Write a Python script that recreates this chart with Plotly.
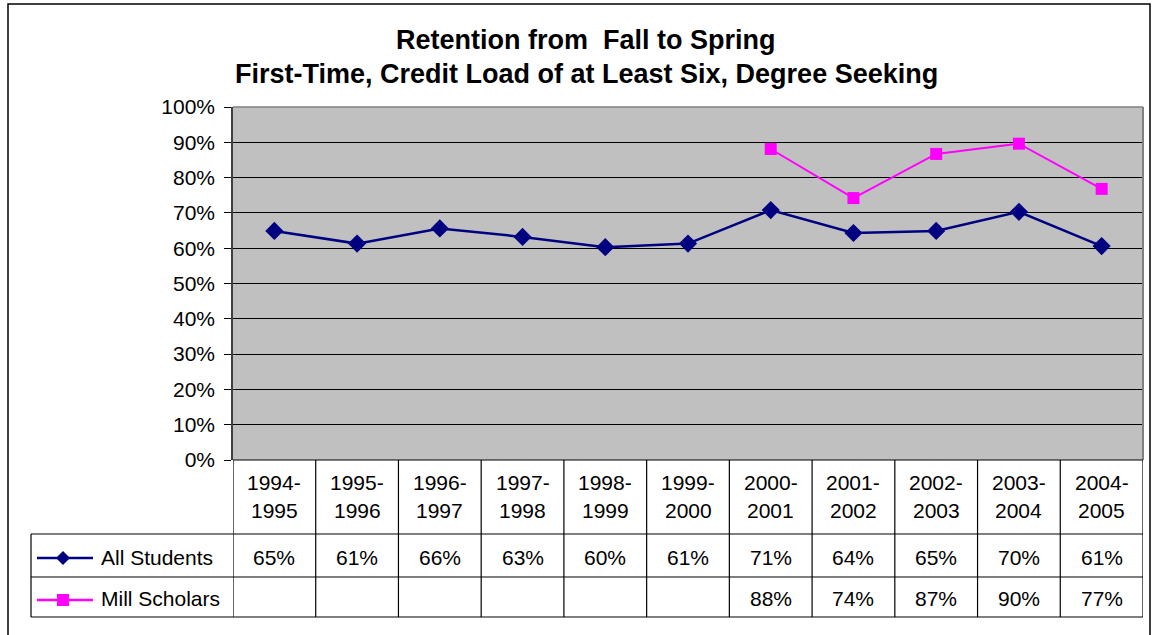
import plotly.graph_objects as go

W, H = 1152, 635

categories = ["1994-1995", "1995-1996", "1996-1997", "1997-1998", "1998-1999", "1999-2000",
              "2000-2001", "2001-2002", "2002-2003", "2003-2004", "2004-2005"]
all_students = [64.9, 61.3, 65.6, 63.2, 60.3, 61.3, 70.8, 64.3, 64.9, 70.3, 60.6]
mill_scholars = [None, None, None, None, None, None, 88.1, 74.2, 86.7, 89.6, 76.8]
series_names = ["All Students", "Mill Scholars"]
series_colors = ["#000080", "#FF00FF"]
title_lines = ["Retention from  Fall to Spring",
               "First-Time, Credit Load of at Least Six, Degree Seeking"]

FONT = "Arial, 'Liberation Sans', sans-serif"


def px(x):
    return x / W


def py(y):
    return 1 - y / H


PL, PR, PT, PB = 233, 1143, 107, 460
ROW1, ROW2, ROW3 = 534, 577, 617

fig = go.Figure()
fig.add_trace(go.Scatter(
    x=categories, y=all_students, mode="lines+markers", name=series_names[0],
    line=dict(color=series_colors[0], width=2.5),
    marker=dict(symbol="diamond", size=14, color=series_colors[0]),
    showlegend=False))
fig.add_trace(go.Scatter(
    x=categories, y=mill_scholars, mode="lines+markers", name=series_names[1],
    line=dict(color=series_colors[1], width=2),
    marker=dict(symbol="square", size=12, color=series_colors[1]),
    showlegend=False, connectgaps=False))

shapes = []
# plot border pieces
shapes.append(dict(type="line", xref="paper", yref="paper", x0=px(PL), x1=px(PR), y0=py(PT), y1=py(PT),
                   line=dict(color="#808080", width=1.5), layer="above"))
shapes.append(dict(type="line", xref="paper", yref="paper", x0=px(PR), x1=px(PR), y0=py(PT), y1=py(PB),
                   line=dict(color="#808080", width=2), layer="above"))
# table horizontal lines
shapes.append(dict(type="line", xref="paper", yref="paper", x0=px(PL), x1=px(PR), y0=py(PB), y1=py(PB),
                   line=dict(color="black", width=1.2)))
for yy in (ROW1, ROW2, ROW3):
    shapes.append(dict(type="line", xref="paper", yref="paper", x0=px(31), x1=px(PR), y0=py(yy), y1=py(yy),
                       line=dict(color="black", width=1.2)))
# table vertical lines
shapes.append(dict(type="line", xref="paper", yref="paper", x0=px(31), x1=px(31), y0=py(ROW1), y1=py(ROW3),
                   line=dict(color="black", width=1.2)))
for k in range(len(categories) + 1):
    shapes.append(dict(type="line", xref="x", yref="paper", x0=k - 0.5, x1=k - 0.5, y0=py(PB), y1=py(ROW3),
                       line=dict(color="black", width=1.2)))
# outer border
shapes.append(dict(type="rect", xref="paper", yref="paper", x0=px(8), x1=px(1150), y0=py(4), y1=py(645),
                   line=dict(color="black", width=1.5)))

# legend keys in table
key_rows = [(558, series_colors[0], "diamond"), (600, series_colors[1], "square")]
for yc, col, sym in key_rows:
    shapes.append(dict(type="line", xref="paper", yref="paper", x0=px(37), x1=px(93), y0=py(yc), y1=py(yc),
                       line=dict(color=col, width=2.5)))
    cx = 63
    if sym == "diamond":
        d = 7
        path = (f"M {px(cx - d)} {py(yc)} L {px(cx)} {py(yc - d)} L {px(cx + d)} {py(yc)} "
                f"L {px(cx)} {py(yc + d)} Z")
    else:
        d = 6
        path = (f"M {px(cx - d)} {py(yc - d)} L {px(cx + d)} {py(yc - d)} L {px(cx + d)} {py(yc + d)} "
                f"L {px(cx - d)} {py(yc + d)} Z")
    shapes.append(dict(type="path", xref="paper", yref="paper", path=path,
                       fillcolor=col, line=dict(color=col, width=0)))

annotations = []
# title
for i, (t, yc) in enumerate(zip(title_lines, (40, 74))):
    annotations.append(dict(text=f"<b>{t}</b>", xref="paper", yref="paper", x=px(586), y=py(yc),
                            xanchor="center", yanchor="middle", showarrow=False,
                            font=dict(family=FONT, size=27, color="black")))
# table header
for i, c in enumerate(categories):
    a, b = c.split("-")
    annotations.append(dict(text=a + "-", xref="x", yref="paper", x=i, y=py(482), xanchor="center",
                            yanchor="middle", showarrow=False, font=dict(family=FONT, size=21, color="black")))
    annotations.append(dict(text=b, xref="x", yref="paper", x=i, y=py(511), xanchor="center",
                            yanchor="middle", showarrow=False, font=dict(family=FONT, size=21, color="black")))
# table values
for series, yc in ((all_students, 557), (mill_scholars, 598)):
    for i, v in enumerate(series):
        if v is None:
            continue
        annotations.append(dict(text=f"{round(v)}%", xref="x", yref="paper", x=i, y=py(yc), xanchor="center",
                                yanchor="middle", showarrow=False, font=dict(family=FONT, size=21, color="black")))
# row labels
for name, yc in zip(series_names, (557, 598)):
    annotations.append(dict(text=name, xref="paper", yref="paper", x=px(99), y=py(yc), xanchor="left",
                            yanchor="middle", showarrow=False, font=dict(family=FONT, size=21, color="black")))

fig.update_layout(
    width=W, height=H,
    margin=dict(l=0, r=0, t=0, b=0, pad=0, autoexpand=False),
    paper_bgcolor="white", plot_bgcolor="#C0C0C0",
    shapes=shapes, annotations=annotations,
    showlegend=False,
    xaxis=dict(domain=[px(PL), px(PR)], type="category", range=[-0.5, len(categories) - 0.5],
               automargin=False,
               showticklabels=False, showgrid=False, zeroline=False, showline=False, ticks=""),
    yaxis=dict(domain=[py(PB), py(PT)], range=[0, 100], dtick=10, ticksuffix="%",
               automargin=False,
               showgrid=True, gridcolor="black", gridwidth=1, zeroline=False,
               showline=True, linecolor="#404040", linewidth=1.5,
               ticks="outside", ticklen=7, tickcolor="black", ticklabelstandoff=5,
               tickfont=dict(family=FONT, size=21, color="black")),
)

post_js = (
    "var de=document.documentElement, b=document.body;"
    "de.style.margin='0';de.style.padding='0';de.style.overflow='hidden';"
    "b.style.margin='0';b.style.padding='0';b.style.overflow='hidden';"
)

fig.write_html("out.html", post_script=post_js, config={"displayModeBar": False})
